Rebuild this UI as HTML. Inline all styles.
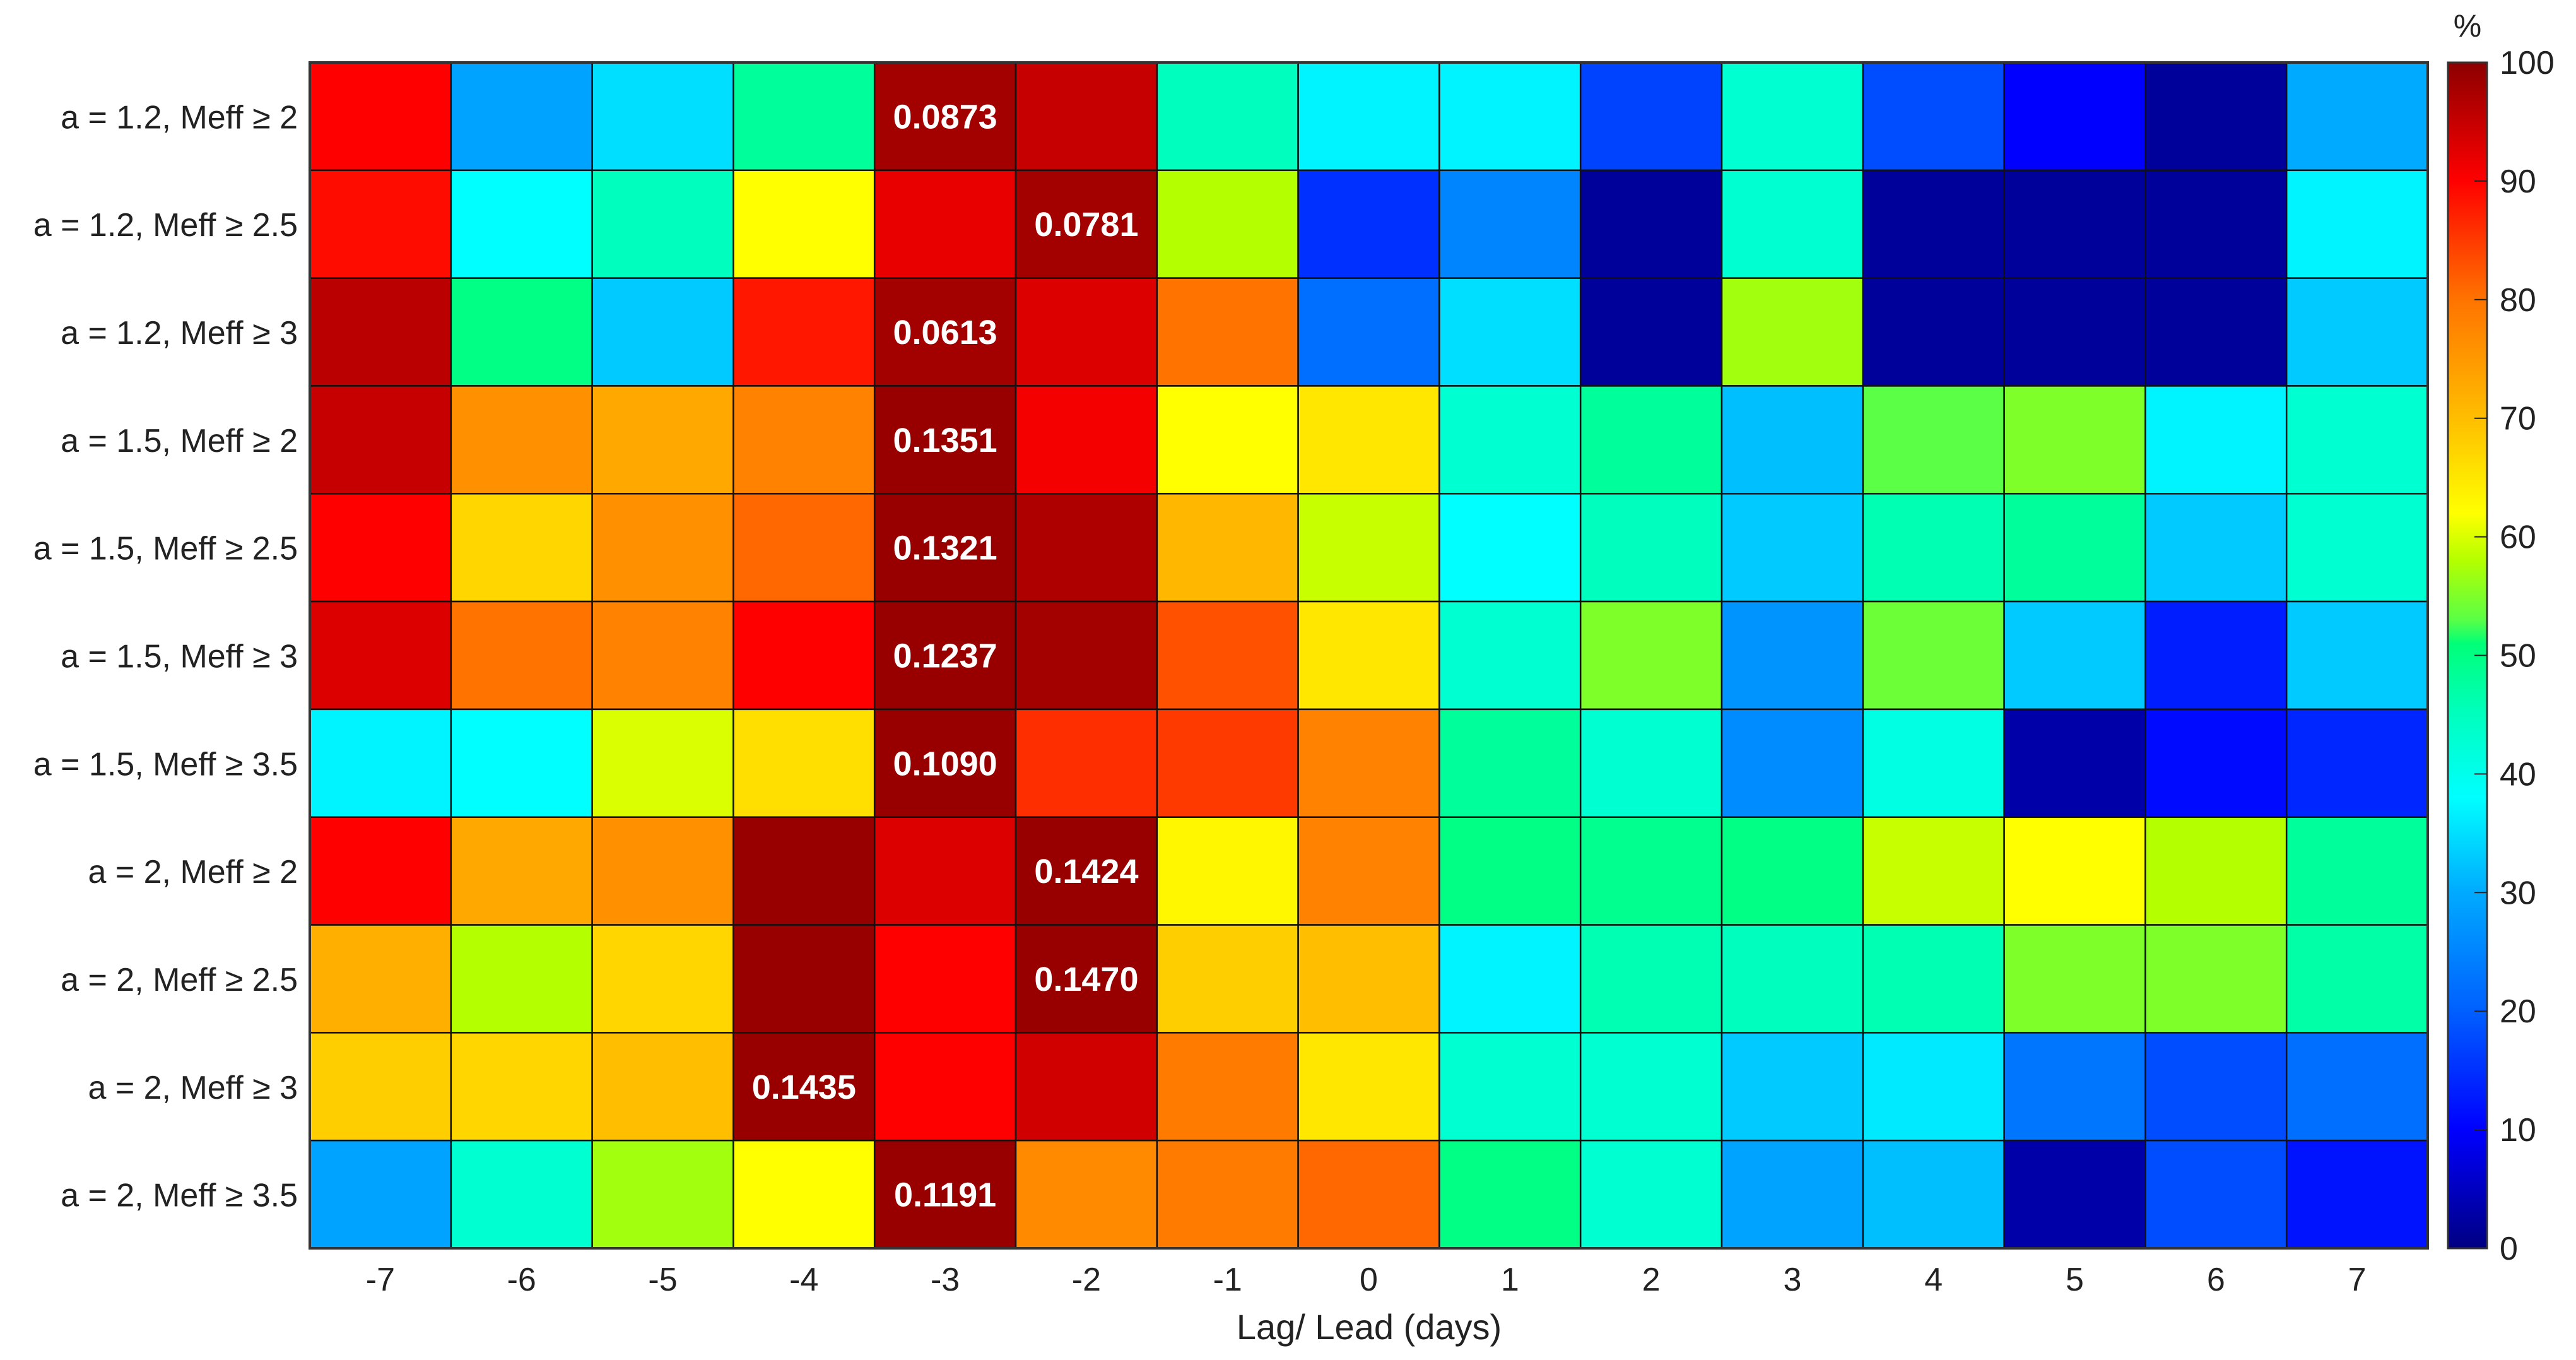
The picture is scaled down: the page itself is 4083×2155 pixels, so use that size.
<!DOCTYPE html>
<html><head><meta charset="utf-8"><style>body{margin:0;background:#fff}svg{display:block}</style></head>
<body>
<svg id="chart" xmlns="http://www.w3.org/2000/svg" width="4083" height="2155" viewBox="0 0 4083 2155" font-family="Liberation Sans, sans-serif">
<rect width="4083" height="2155" fill="#fff"/>
<g id="cells"></g>
<g id="ylabels"></g>
<g id="xlabels"></g>
<text x="2170" y="2122" font-size="56" text-anchor="middle" fill="#222">Lag/ Lead (days)</text>
<defs><linearGradient id="cbg" x1="0" y1="1" x2="0" y2="0"></linearGradient></defs>
<rect x="3880" y="99" width="62" height="1879" fill="url(#cbg)" stroke="#333" stroke-width="3"/>
<g id="cbticks"></g>
<text x="3911" y="58" font-size="50" text-anchor="middle" fill="#222">%</text>
</svg>
<script>
const days = [-7,-6,-5,-4,-3,-2,-1,0,1,2,3,4,5,6,7];
const rowLabels = ["a = 1.2, Meff \u2265 2","a = 1.2, Meff \u2265 2.5","a = 1.2, Meff \u2265 3","a = 1.5, Meff \u2265 2","a = 1.5, Meff \u2265 2.5","a = 1.5, Meff \u2265 3","a = 1.5, Meff \u2265 3.5","a = 2, Meff \u2265 2","a = 2, Meff \u2265 2.5","a = 2, Meff \u2265 3","a = 2, Meff \u2265 3.5"];
const row0 = [90,29,35,48,98,95,45,37,37,17,43,18,10,2,30];
const row1 = [89,38,45,62,92,98,58,15,25,2,43,2,2,2,37];
const row2 = [96,50,33,88,98,93,80,22,35,2,57,2,2,2,33];
const row3 = [95,76,73,78,99,91,62,65,43,48,32,53,55,37,43];
const row4 = [90,67,76,81,99,97,71,59,38,45,33,46,48,33,43];
const row5 = [93,80,78,90,99,98,83,65,43,55,27,54,33,13,33];
const row6 = [37,38,60,66,99,86,85,78,48,43,26,41,3,11,14];
const row7 = [90,73,76,99,93,99,63,78,50,49,50,59,62,58,48];
const row8 = [72,58,67,99,90,99,68,70,37,46,45,46,55,55,47];
const row9 = [68,67,70,99,90,94,79,65,43,43,33,36,23,18,22];
const row10 = [29,43,57,62,99,77,79,81,50,43,29,32,3,18,12];
const values = [row0,row1,row2,row3,row4,row5,row6,row7,row8,row9,row10];
const annotRows = [0,1,2,3,4,5,6,7,8,9,10];
const annotCols = [-3,-2,-3,-3,-3,-3,-3,-2,-2,-4,-3];
const annotText = ["0.0873","0.0781","0.0613","0.1351","0.1321","0.1237","0.1090","0.1424","0.1470","0.1435","0.1191"];
const cbTicks = [0,10,20,30,40,50,60,70,80,90,100];

const X0=491, X1=3848, Y0=99, Y1=1978;
const cw=(X1-X0)/days.length, rh=(Y1-Y0)/rowLabels.length;
const xPos = d => X0 + (days.indexOf(d)+0.5)*cw;
const yPos = r => Y0 + (r+0.5)*rh;
const cbY = v => 1978 - v/100*(1978-99);
const stops=[[0,[0,0,130]],[10,[0,0,255]],[20,[0,95,255]],[30,[0,170,255]],[38,[0,255,255]],[45,[0,255,190]],[51,[0,255,120]],[53,[90,255,70]],[58,[180,255,0]],[62,[255,255,0]],[70,[255,190,0]],[80,[255,115,0]],[90,[255,0,0]],[100,[140,0,0]]];
function cmap(v){for(let i=1;i<stops.length;i++){if(v<=stops[i][0]){const [a,ca]=stops[i-1],[b,cb]=stops[i];const t=(v-a)/(b-a);return 'rgb('+ca.map((c,k)=>Math.round(c+(cb[k]-c)*t)).join(',')+')';}}return 'rgb(140,0,0)';}
const NS='http://www.w3.org/2000/svg';
function mk(tag,attrs,parent){const e=document.createElementNS(NS,tag);for(const k in attrs)e.setAttribute(k,attrs[k]);parent.appendChild(e);return e;}
const cells=document.getElementById('cells');
values.forEach((row,r)=>row.forEach((v,c)=>{
  const e=mk('rect',{x:xPos(days[c])-cw/2,y:yPos(r)-rh/2,width:cw,height:rh,fill:cmap(v),stroke:'#111','stroke-width':2.5},cells);
  
  
}));
const frame=mk('rect',{x:X0,y:Y0,width:X1-X0,height:Y1-Y0,fill:'none',stroke:'#333','stroke-width':4},cells);


annotRows.forEach((r,i)=>{
  const t=mk('text',{x:xPos(annotCols[i]),y:yPos(r)+19,'font-size':54,'font-weight':'bold','text-anchor':'middle',fill:'#fff'},cells);
  t.textContent=annotText[i];
  
  
});
const yl=document.getElementById('ylabels');
rowLabels.forEach((s,r)=>{
  const t=mk('text',{x:472,y:yPos(r)+19,'font-size':52,'text-anchor':'end',fill:'#222'},yl);
  t.textContent=s;
  
  
});
const xl=document.getElementById('xlabels');
days.forEach(d=>{
  const t=mk('text',{x:xPos(d),y:2045,'font-size':52,'text-anchor':'middle',fill:'#222'},xl);
  t.textContent=String(d);
  
  
});
const g=document.getElementById('cbg');
for(let v=0;v<=100;v+=1){mk('stop',{offset:(v/100),'stop-color':cmap(v)},g);}
const cbt=document.getElementById('cbticks');
cbTicks.forEach(v=>{
  if(v>0&&v<100){const l=mk('line',{x1:3922,x2:3942,y1:cbY(v),y2:cbY(v),stroke:'#222','stroke-width':2},cbt);
  
  }
  const t=mk('text',{x:3962,y:cbY(v)+18,'font-size':52,fill:'#222'},cbt);
  t.textContent=String(v);
  
  
});
</script>
</body></html>
